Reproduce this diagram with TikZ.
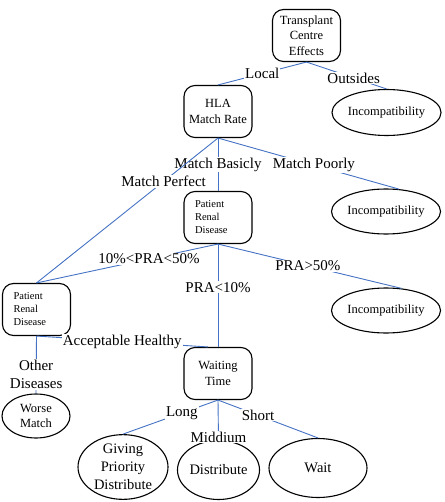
\documentclass[tikz,border=0pt]{standalone}
\usepackage{fontspec}
\setmainfont{Liberation Serif}
\usetikzlibrary{shapes.geometric}
\definecolor{linkblue}{RGB}{68,114,196}

\tikzset{
  rbox/.style={draw, rounded corners=11pt, line width=1.1pt, minimum width=68pt, minimum height=52pt, align=center, font=\fontsize{12.5}{15.5}\selectfont},
  pbox/.style={rbox, align=left, text width=46pt, inner xsep=11pt, font=\fontsize{10.5}{13}\selectfont},
  oval/.style={draw, ellipse, line width=1.1pt, inner sep=0pt, align=center},
  link/.style={linkblue, line width=0.9pt},
  lbl/.style={fill=white, text=black, inner sep=1pt, align=center, font=\fontsize{15}{18}\selectfont}
}

\begin{document}
\begin{tikzpicture}[x=1pt, y=-1pt]
    \useasboundingbox (0,0) rectangle (444,502);

    \node [rbox] (Centre) at (306.5,35.5) {Transplant\\Centre\\Effects};
    \node [rbox] (HLA) at (218,111.5) {HLA\\Match Rate};
    \node [oval, minimum width=103pt, minimum height=46pt, font=\fontsize{12.5}{15}\selectfont] (IncompA) at (386.5,112.5) {Incompatibility};
    \node [pbox] (RenalMid) at (218,217.5) {Patient\\Renal\\Disease};
    \node [oval, minimum width=103pt, minimum height=45pt, font=\fontsize{12.5}{15}\selectfont] (IncompB) at (386,211.5) {Incompatibility};
    \node [pbox] (RenalLeft) at (36.5,309.5) {Patient\\Renal\\Disease};
    \node [oval, minimum width=103pt, minimum height=45pt, font=\fontsize{12.5}{15}\selectfont] (IncompC) at (386,310.5) {Incompatibility};
    \node [rbox] (Waiting) at (218,373.5) {Waiting\\Time};
    \node [oval, minimum width=68pt, minimum height=44pt, font=\fontsize{12.5}{15.5}\selectfont] (Worse) at (36,416) {Worse\\Match};
    \node [oval, minimum width=90pt, minimum height=61pt, font=\fontsize{14.5}{18}\selectfont] (Priority) at (123,467) {Giving\\Priority\\Distribute};
    \node [oval, minimum width=81pt, minimum height=59pt, font=\fontsize{14.5}{18}\selectfont] (Distribute) at (218.5,470) {Distribute};
    \node [oval, minimum width=98pt, minimum height=59pt, font=\fontsize{14.5}{18}\selectfont] (Wait) at (318,468) {Wait};

    \path [link] (Centre.south) edge node[lbl] {Local} (HLA.north);
    \path [link] (Centre.south) edge node[lbl, pos=0.59] {Outsides} (IncompA.north);
    \path [link] (HLA.south) edge node[lbl] {Match Basicly} (RenalMid.north);
    \path [link] (HLA.south) edge node[lbl, pos=0.53] {Match Poorly} (IncompB.60);
    \path [link] (HLA.south) edge node[lbl, pos=0.3] {Match Perfect} (RenalLeft.north);
    \path [link] (RenalMid.south) edge node[lbl, pos=0.38] {10\%<PRA<50\%} (RenalLeft.north);
    \path [link] (RenalMid.south) edge node[lbl, pos=0.49] {PRA>50\%} (IncompC.55);
    \path [link] (RenalMid.south) edge node[lbl, pos=0.42] {PRA<10\%} (Waiting.north);
    \path [link] (RenalLeft.south) edge node[lbl] {Acceptable Healthy} ([xshift=-10pt]Waiting.north);
    \path [link] (RenalLeft.south) edge node[lbl, pos=0.67] {Other\\Diseases} (Worse.north);
    \path [link] (Waiting.south) edge node[lbl, pos=0.38] {Long} (Priority.north);
    \path [link] (Waiting.south) edge node[lbl, pos=0.93] {Middium} (Distribute.north);
    \path [link] (Waiting.south) edge node[lbl, pos=0.4] {Short} (Wait.north);
\end{tikzpicture}
\end{document}
